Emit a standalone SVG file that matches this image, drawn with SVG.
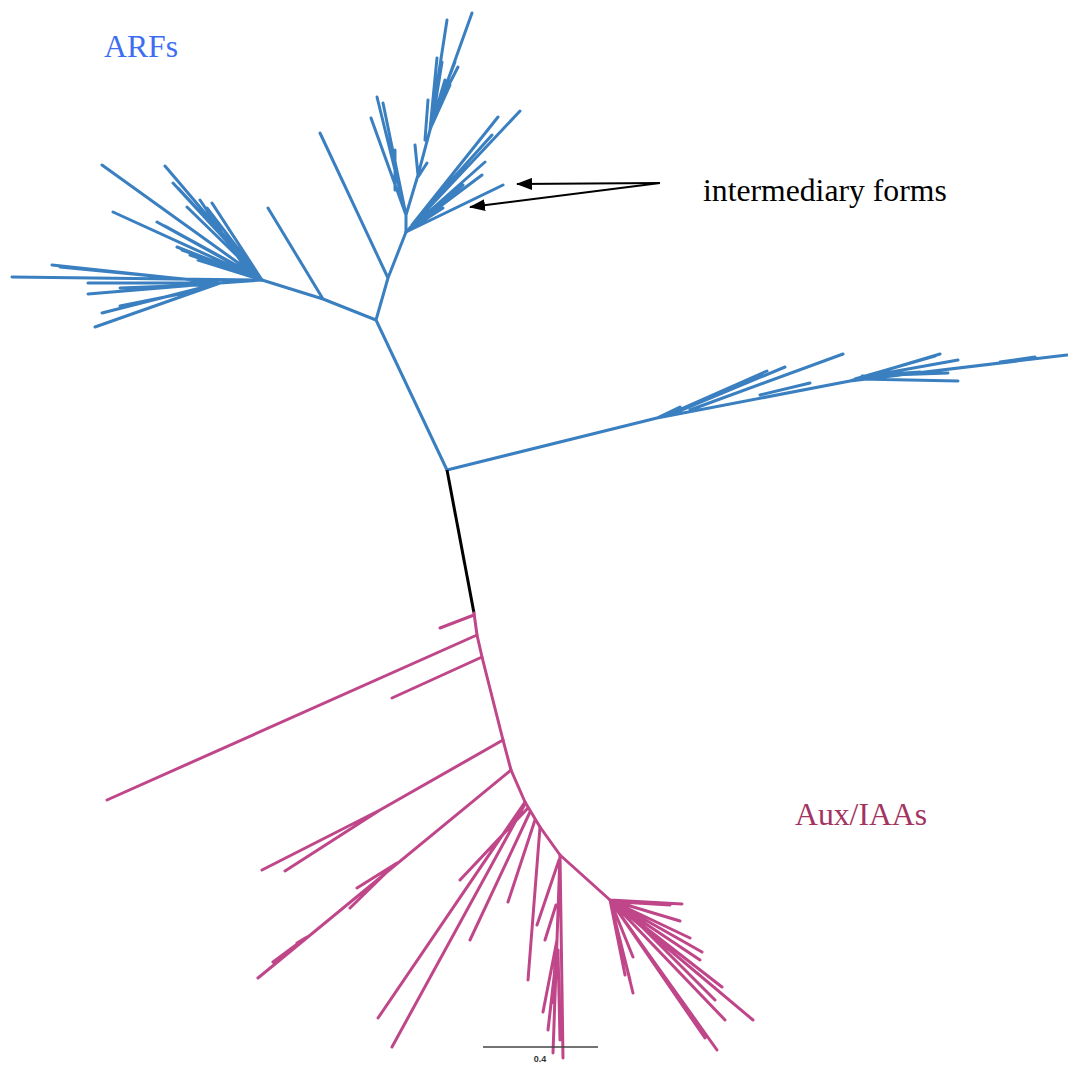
<svg xmlns="http://www.w3.org/2000/svg" width="1068" height="1065" viewBox="0 0 1068 1065">
<style>
.b{fill:none;stroke:#3a7fc0;stroke-width:3;stroke-linecap:round;stroke-linejoin:round}
.p{fill:none;stroke:#c0468a;stroke-width:3;stroke-linecap:round;stroke-linejoin:round}
.k{fill:none;stroke:#000;stroke-width:3}
.lbl{font-family:"Liberation Serif","Times New Roman",serif;font-size:31.7px}
.arr{fill:none;stroke:#000;stroke-width:2}
</style>
<defs>
<marker id="ah" markerWidth="16" markerHeight="12" refX="15" refY="6" orient="auto" markerUnits="userSpaceOnUse">
<path d="M0,0 L16,6 L0,12 Z" fill="#000"/>
</marker>
</defs>
<rect width="1068" height="1065" fill="#fff"/>

<g id="arf-clade">
<path class="b" d="M447,470 L376,320 M376,320 L323,299 L262,280 M323,299 L268,208 M376,320 L388,278 L320,133 M388,278 L406,232"/>
<path class="b" d="M447,470 L657,418 L850,381 L1067,355 M657,418 L680,407 M665,416 L767,371 M672,414 L785,367 M690,410 L843,354 M760,395 L810,383 M850,381 L940,354 M855,379 L935,356 M858,378 L958,360 M862,376 L948,373 M860,379 L958,381 M875,375 L920,372 M1000,362 L1035,357"/>
<path class="b" d="M262,280 L102,165 M262,280 L165,166 M255,272 L173,183 M258,274 L178,188 M262,280 L187,207 M262,280 L207,208 M262,280 L212,203 M250,275 L200,200 M262,280 L113,212 M262,280 L157,222 M245,270 L165,226 M262,280 L177,247 M255,276 L182,250 M262,280 L198,260 M240,272 L190,255"/>
<path class="b" d="M262,280 L220,283 M262,280 L12,277 M220,283 L52,265 M215,282 L60,267 M220,283 L88,283 M220,283 L88,294 M200,285 L120,288 M220,283 L102,313 M220,283 L95,327 M200,290 L120,306"/>
<path class="b" d="M406,232 L520,111 M412,225 L498,117 M420,215 L492,135 M406,232 L485,162 M406,232 L474,181 M410,228 L463,185 M406,232 L503,185 M406,232 L497,188 M406,232 L443,208 M415,225 L482,175"/>
<path class="b" d="M406,232 L406,215 L418,175 L430,130 M406,215 L377,97 M406,215 L383,103 M406,215 L371,118 M395,190 L395,150 M418,175 L415,145 M418,177 L427,163 M430,130 L447,20 M430,130 L472,13 M430,130 L437,58 M433,118 L442,62 M433,118 L455,62 M436,110 L458,67 M430,130 L445,80 M432,125 L450,85 M425,140 L428,100"/>
</g>

<g id="root-branch">
<path class="k" d="M447,470 L474,613"/>
</g>

<g id="auxiaa-clade">
<path class="p" d="M474,613 L477,635 L482,657 L503,740 L511,770 L525,802 L540,827 L560,855 L610,900"/>
<path class="p" d="M474,615 L440,628 M477,635 L107,800 M482,657 L392,698"/>
<path class="p" d="M503,740 L380,810 L262,870 M380,810 L285,871"/>
<path class="p" d="M511,770 L258,978 M397,863 L357,888 M392,867 L350,908 M307,937 L297,943 M300,942 L273,962"/>
<path class="p" d="M525,802 L378,1018 M525,804 L392,1047 M528,808 L460,880 M530,812 L470,940 M535,820 L508,902 M540,827 L528,980"/>
<path class="p" d="M560,855 L557,940 L553,1053 M560,855 L563,1058 M557,940 L543,1012 M557,940 L552,1003 M556,960 L548,1030 M558,950 L560,1040 M559,860 L537,925 M556,905 L545,940"/>
<path class="p" d="M610,900 L682,904 M610,900 L680,921 M610,900 L702,952 M610,900 L690,938 M610,900 L722,987 M610,900 L753,1020 M610,900 L725,1020 M610,900 L717,1050 M610,900 L705,1038 M610,900 L633,993 M610,900 L630,980 M610,900 L625,975 M610,900 L633,957 M620,902 L670,905 M625,910 L700,960 M630,915 L715,1000"/>
</g>

<g id="annotation-arrows">
<line class="arr" x1="660" y1="183" x2="517" y2="184" marker-end="url(#ah)"/>
<line class="arr" x1="660" y1="183" x2="470" y2="207" marker-end="url(#ah)"/>
</g>

<g id="labels">
<text class="lbl" x="104" y="57" fill="#3d6ef2">ARFs</text>
<text class="lbl" x="703" y="201" fill="#000">intermediary forms</text>
<text class="lbl" x="795" y="825" fill="#a3335f">Aux/IAAs</text>
</g>

<g id="scale-bar">
<line x1="483" y1="1047" x2="598" y2="1047" stroke="#444" stroke-width="1.5"/>
<text x="540" y="1062" font-family="Liberation Sans, Arial, sans-serif" font-size="9" font-weight="bold" fill="#333" text-anchor="middle">0.4</text>
</g>
</svg>
